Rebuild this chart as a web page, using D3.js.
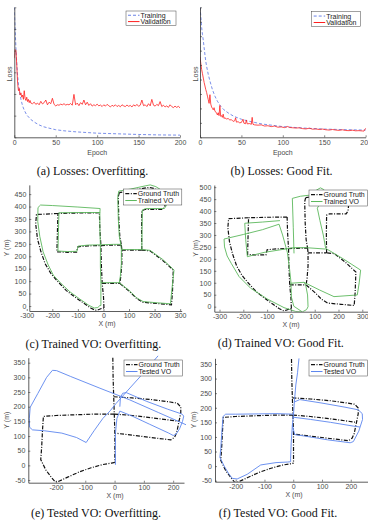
<!DOCTYPE html>
<html>
<head>
<meta charset="utf-8">
<script src="https://cdn.jsdelivr.net/npm/d3@7"></script>
<style>
  body { margin: 0; background: #fff; }
  svg { display: block; }
</style>
</head>
<body>
<svg id="fig" width="368" height="521"></svg>
<script>
// loss curves, [epoch, loss] in tick units (loss axis has no labels)
const trainA = [[0,6.0],[1,5.0],[2,4.1],[3,3.4],[4,2.85],[5,2.45],[6,2.15],[8,1.75],[10,1.45],[12,1.25],[15,1.03],[20,0.82],[25,0.68],[30,0.57],[35,0.49],[40,0.44],[50,0.35],[60,0.3],[75,0.25],[100,0.19],[125,0.16],[150,0.13],[175,0.11],[200,0.1]];
const valA = [[0,3.65],[1,4.05],[2,4.0],[3,3.3],[4,2.5],[5,2.15],[6,2.25],[7,1.95],[8,2.05],[9,1.85],[10,1.95],[11,1.75],[12,2.15],[13,1.8],[14,1.7],[15,1.85],[16,1.65],[17,1.75],[18,1.6],[19,1.7],[20,1.58],
  [22,1.55],[24,1.62],[26,1.52],[28,1.58],[30,1.5],[32,1.66],[34,1.54],[36,1.6],[38,1.72],[40,1.5],[42,1.62],[44,1.55],[46,1.8],[48,1.52],[50,1.45],[52,1.5],[54,1.48],[56,1.53],[58,1.5],[60,1.55],
  [62,1.49],[64,1.52],[66,1.5],[68,1.56],[70,1.48],[72,1.98],[74,1.5],[76,1.58],[78,1.46],[80,1.6],[82,1.52],[84,1.72],[86,1.5],[88,1.62],[90,1.47],[92,1.55],[94,1.44],[96,1.5],[98,1.46],[100,1.53],
  [102,1.45],[104,1.49],[106,1.42],[108,1.5],[110,1.44],[112,1.52],[114,1.46],[116,1.4],[118,1.48],[120,1.43],[122,1.5],[124,1.42],[126,1.47],[128,1.41],[130,1.5],[132,1.45],[134,1.42],[136,1.49],[138,1.43],[140,1.47],
  [142,1.4],[144,1.5],[146,1.44],[148,1.52],[150,1.43],[152,1.48],[154,1.72],[156,1.46],[158,1.5],[160,1.42],[162,1.55],[164,1.45],[166,1.75],[168,1.48],[170,1.44],[172,1.52],[174,1.46],[176,1.65],[178,1.42],[180,1.48],
  [182,1.4],[184,1.45],[186,1.38],[188,1.5],[190,1.42],[192,1.37],[194,1.44],[196,1.38],[198,1.43],[200,1.36]];
const trainB = [[0,9.0],[1,8.4],[2,7.6],[3,7.1],[4,6.7],[5,6.2],[6,5.7],[7,5.25],[8,4.9],[10,4.35],[12,3.9],[15,3.3],[18,2.85],[21,2.5],[25,2.15],[29,1.9],[35,1.65],[41,1.45],[50,1.25],[60,1.1],[75,0.92],[100,0.74],[125,0.64],[150,0.57],[175,0.53],[200,0.5]];
const valB = [[0,5.58],[1,5.1],[2,4.7],[3,4.4],[4,4.1],[5,3.8],[6,3.55],[7,3.3],[8,3.1],[9,2.85],[10,2.6],[11,2.35],[12,2.95],[13,2.3],[14,2.1],[15,2.0],[16,1.9],[17,2.05],[18,1.82],[19,1.75],[20,1.68],
  [21,1.55],[22,1.7],[23,1.5],[24,2.2],[25,1.45],[26,1.5],[27,1.38],[28,1.6],[29,1.3],[30,1.35],[32,1.27],[34,1.3],[36,1.2],[38,1.22],[40,1.1],[42,1.15],[43,1.35],[44,1.05],[46,1.08],[48,1.0],[50,1.03],
  [52,1.25],[53,0.98],[55,0.94],[56,1.2],[57,0.93],[60,0.95],[62,0.9],[63,1.38],[64,0.9],[66,0.86],[70,0.84],[74,0.86],[78,0.78],[82,0.8],[86,0.74],[90,0.78],[94,0.7],[98,0.72],[102,0.67],[106,0.75],
  [108,0.68],[112,0.66],[116,0.64],[120,0.66],[124,0.6],[128,0.58],[132,0.63],[136,0.56],[140,0.58],[144,0.54],[148,0.57],[152,0.52],[156,0.5],[160,0.54],[164,0.5],[168,0.48],[172,0.52],[176,0.47],
  [180,0.46],[184,0.49],[188,0.45],[192,0.46],[196,0.44],[198,0.43],[200,0.62]];

// trajectories, lists of segments of [x, y] in metres
const gtTrain = [
  [[2,-8],[0,40],[-5,91],[-8,160],[-10,243],[-14,310],[-16,375]],
  [[-16,375],[-100,374],[-178,372],[-180,300],[-182,218],[-140,216],[-105,217],[-100,238],[-60,242],[-10,243],[40,245],[70,245]],
  [[-178,372],[-262,368],[-265,330],[-258,270],[-245,220],[-228,170],[-205,130],[-180,100],[-145,62],[-110,35],[-75,10],[-50,-8],[-32,-17],[-20,-15],[-8,-10],[2,-8]],
  [[70,245],[72,225],[72,170],[68,120],[64,91]],
  [[-5,91],[30,91],[64,91]],
  [[64,91],[100,60],[130,30],[155,15],[210,10],[266,5],[270,60],[273,145],[230,185],[182,222],[150,225]],
  [[72,225],[110,225],[150,225]],
  [[150,225],[149,300],[150,383],[162,388],[232,388],[240,400],[242,420],[230,455],[200,472],[180,477],[160,474],[100,462],[62,456]],
  [[62,456],[58,440],[60,350],[64,280],[70,245]]
];
const voTrainOver = [
  [[-10,2],[-10,91],[-12,160],[-12,243],[-14,310],[-14,374],[-13,392]],
  [[-13,376],[-100,376],[-174,375],[-176,300],[-178,221],[-140,219],[-104,220],[-99,241],[-60,245],[-12,246],[40,248],[68,248]],
  [[-13,392],[-100,398],[-200,404],[-246,406],[-256,396],[-257,340],[-249,280],[-236,218],[-216,165],[-196,124],[-165,90],[-131,57],[-95,30],[-59,4],[-36,-8],[-22,-6],[-14,2],[-10,2]],
  [[68,248],[70,227],[70,170],[66,120],[62,94]],
  [[-10,94],[30,94],[62,94]],
  [[62,94],[100,63],[130,33],[155,18],[210,13],[262,9],[267,60],[276,145],[232,187],[182,224],[150,227]],
  [[70,227],[110,227],[150,227]],
  [[150,227],[151,300],[152,386],[165,392],[238,392],[246,404],[248,425],[236,460],[205,480],[183,487],[163,483],[105,470],[60,462]],
  [[60,462],[56,440],[58,350],[62,280],[68,248]]
];
const voTrainGood = [
  [[-50,345],[-120,322],[-200,302],[-281,283],[-279,250],[-268,212],[-250,180],[-218,126],[-169,77],[-99,32],[-29,-4],[20,-20],[48,-22],[66,-12],[72,0],[70,49],[62,91],[55,102]],
  [[-50,345],[-35,300],[-15,227],[-6,160],[0,105],[2,40],[12,2],[48,-22]],
  [[-46,360],[-120,354],[-194,349],[-190,280],[-183,209],[-150,218],[-113,227],[-50,237],[13,247],[62,247],[146,241]],
  [[13,223],[10,330],[6,453],[40,462],[83,467],[108,488],[124,497],[138,490],[136,455],[111,412],[122,360],[136,300],[146,244]],
  [[146,244],[220,200],[293,153],[287,100],[279,49],[181,42],[120,70],[55,102],[-1,98]]
];
const gtTest = [
  [[-6,367],[-5,300],[-3,234],[-1,175],[1,110],[1,60],[1,10]],
  [[-1,175],[-60,175],[-120,173],[-200,170],[-243,167],[-246,120],[-249,60],[-252,20],[-235,-15],[-215,-42],[-203,-56],[-190,-54],[-160,-40],[-120,-22],[-80,-8],[-40,3],[-10,8],[1,10]],
  [[-1,175],[60,170],[130,162],[220,150]],
  [[-3,234],[60,230],[130,224],[190,216],[214,212],[226,199],[226,180],[220,150],[212,112],[205,96],[192,87],[100,98],[1,110]]
];
const voTestOver = [
  [[3,2],[3,50],[3,109],[8,160],[18,185],[60,168],[120,140],[185,110],[200,102],[210,106],[222,125],[232,150],[236,168],[230,175],[180,192],[110,218],[40,248],[28,246],[20,232],[18,200]],
  [[245,138],[150,180],[50,224],[-50,263],[-150,303],[-198,323],[-212,324],[-232,300],[-262,245],[-288,198],[-291,160],[-290,130],[-280,121],[-240,118],[-180,110],[-130,95],[-97,78],[-70,118],[-40,160],[-15,186],[5,211],[40,250],[87,302],[150,375]]
];
const voTestGood = [
  [[20,369],[15,320],[9,278],[4,220],[1,178],[-3,140],[-7,80],[-9,27],[-9,15]],
  [[1,178],[-60,180],[-120,179],[-200,178],[-235,178],[-244,170],[-248,120],[-252,60],[-255,30],[-240,0],[-225,-25],[-212,-42],[-195,-44],[-160,-28],[-113,4],[-60,12],[-20,14],[-9,15]],
  [[-3,168],[60,160],[130,150],[210,137],[232,134]],
  [[4,220],[23,228],[100,216],[180,202],[226,193],[240,180],[241,160],[228,120],[209,84],[198,80],[120,90],[40,103],[5,108],[-3,140]]
];

const epochTicks = [0, 50, 100, 150, 200];
const trainXTicks = [-300, -200, -100, 0, 100, 200, 300];
const testXTicks = [-200, -100, 0, 100, 200];
const yTicksC = [0, 50, 100, 150, 200, 250, 300, 350, 400, 450];
const yTicksD = [0, 50, 100, 150, 200, 250, 300, 350, 400, 450, 500];
const yTicksTest = [-50, 0, 50, 100, 150, 200, 250, 300, 350];

const BLUE = '#6b82e6', RED = '#ff1f1f', GREEN = '#5cb85c', VOBLUE = '#5c86ee';
const SANS = "'Liberation Sans', Arial, Helvetica, sans-serif";
const SERIF = "'Liberation Serif', 'Times New Roman', Times, serif";
const GT_DASH = '4,1.5,1,1.5';

const svg = d3.select('#fig');
let clipId = 0;

function addClip(x, y) {
  const id = 'clip' + (clipId++);
  const [x0, x1] = x.range(), [y0, y1] = y.range();
  svg.append('clipPath').attr('id', id).append('rect')
    .attr('x', x0).attr('y', y1 - 2).attr('width', x1 - x0 + 2).attr('height', y0 - y1 + 2);
  return id;
}

function drawAxes(x, y, xt, yt, noYLabels) {
  const xa = svg.append('g')
    .attr('transform', `translate(0,${y.range()[0]})`)
    .call(d3.axisBottom(x).tickValues(xt).tickSizeInner(-2).tickSizeOuter(0).tickPadding(2.5).tickFormat(d => String(d)));
  const ya = svg.append('g')
    .attr('transform', `translate(${x.range()[0]},0)`)
    .call(d3.axisLeft(y).tickValues(yt).tickSizeInner(-2).tickSizeOuter(0).tickPadding(3)
      .tickFormat(d => noYLabels ? '' : String(d)));
  [xa, ya].forEach(a => {
    a.attr('font-size', 7).attr('font-family', SANS);
    a.select('.domain').attr('stroke', '#333').attr('stroke-width', 0.8);
    a.selectAll('.tick line').attr('stroke', '#333').attr('stroke-width', 0.6);
    a.selectAll('.tick text').attr('fill', '#4a4a4a');
  });
}

function legend(x0, y0, w, h, items) {
  const g = svg.append('g');
  g.append('rect').attr('x', x0).attr('y', y0).attr('width', w).attr('height', h)
    .attr('fill', '#fff').attr('stroke', '#444').attr('stroke-width', 0.5);
  items.forEach((it, i) => {
    const yy = y0 + h * (i === 0 ? 0.29 : 0.72);
    g.append('line').attr('x1', x0 + 2).attr('x2', x0 + 13.5).attr('y1', yy).attr('y2', yy)
      .attr('stroke', it.color).attr('stroke-width', it.width).attr('stroke-dasharray', it.dash || null);
    g.append('text').attr('x', x0 + 14.5).attr('y', yy + 2.5).text(it.label)
      .attr('font-size', 7).attr('font-family', SANS).attr('fill', '#222');
  });
}

function label(txt, x, y, rotate, size, family) {
  svg.append('text').text(txt)
    .attr('transform', `translate(${x},${y})` + (rotate ? ' rotate(-90)' : ''))
    .attr('text-anchor', 'middle').attr('dominant-baseline', 'central')
    .style('font-size', size + 'px').style('font-family', family)
    .attr('fill', family === SERIF ? '#111' : '#4a4a4a');
}

function lossPanel(c) {
  const x = d3.scaleLinear().domain([0, 200]).range([c.x0, c.x1]);
  const y = d3.scaleLinear().domain([0, c.ymax]).range([137.3, 7.3]);
  const line = d3.line().x(d => x(d[0])).y(d => y(d[1]));
  const g = svg.append('g').attr('clip-path', `url(#${addClip(x, y)})`);
  g.append('path').datum(c.train).attr('d', line).attr('fill', 'none')
    .attr('stroke', BLUE).attr('stroke-width', 0.9).attr('stroke-dasharray', '3,2');
  g.append('path').datum(c.val).attr('d', line).attr('fill', 'none')
    .attr('stroke', RED).attr('stroke-width', 0.8);
  drawAxes(x, y, epochTicks, d3.range(0, c.ymax + 1), true);
  legend(c.lx, c.ly, c.lw, c.lh, [
    { label: 'Training', color: BLUE, width: 1, dash: '3,2' },
    { label: 'Validation', color: RED, width: 1 }
  ]);
  label('Loss', c.yLabX, 74, true, 7, SANS);
  label('Epoch', (c.x0 + c.x1) / 2, 152, false, 7, SANS);
  label(c.caption, c.capX, 171, false, 12, SERIF);
}

function trajPanel(c) {
  const x = d3.scaleLinear().domain(c.xd).range(c.xr);
  const y = d3.scaleLinear().domain(c.yd).range(c.yr);
  const line = d3.line().x(d => x(d[0])).y(d => y(d[1]));
  const g = svg.append('g').attr('clip-path', `url(#${addClip(x, y)})`);
  g.selectAll('path.gt').data(c.gt).enter().append('path').attr('class', 'gt')
    .attr('d', line).attr('fill', 'none').attr('stroke', '#111')
    .attr('stroke-width', 1.2).attr('stroke-dasharray', GT_DASH);
  g.selectAll('path.vo').data(c.vo).enter().append('path').attr('class', 'vo')
    .attr('d', line).attr('fill', 'none').attr('stroke', c.color).attr('stroke-width', 0.9);
  drawAxes(x, y, c.xt, c.yt, false);
  legend(c.lx, c.ly, 58.5, 16, [
    { label: 'Ground Truth', color: '#111', width: 1.2, dash: GT_DASH },
    { label: c.voName, color: c.color, width: 1 }
  ]);
  label('Y (m)', c.yLabX, (c.yr[0] + c.yr[1]) / 2, true, 7, SANS);
  label('X (m)', c.xLabX, c.yr[0] + 12.3, false, 7, SANS);
  label(c.caption, c.capX, c.capY, false, 12, SERIF);
}

lossPanel({ x0: 14.3, x1: 180, ymax: 6, train: trainA, val: valA,
  lx: 126, ly: 11, lw: 50, lh: 14.7, yLabX: 9.3, capX: 92.5, caption: '(a) Losses: Overfitting.' });
lossPanel({ x0: 200, x1: 365.6, ymax: 9, train: trainB, val: valB,
  lx: 311.7, ly: 11.7, lw: 49, lh: 15, yLabX: 195.5, capX: 281.5, caption: '(b) Losses: Good Fit.' });

trajPanel({ xd: [-290, 306], xr: [29.3, 181.7], yd: [-20, 487], yr: [311, 184.9],
  xt: trainXTicks, yt: yTicksC, gt: gtTrain, vo: voTrainOver, color: GREEN, voName: 'Trained VO',
  lx: 123.3, ly: 189, yLabX: 6, xLabX: 107, capX: 93.3, capY: 344.3, caption: '(c) Trained VO: Overfitting.' });
trajPanel({ xd: [-322, 324], xr: [214.3, 368], yd: [-21, 509], yr: [311.7, 185],
  xt: trainXTicks, yt: yTicksD, gt: gtTrain, vo: voTrainGood, color: GREEN, voName: 'Trained VO',
  lx: 309, ly: 190, yLabX: 195.5, xLabX: 291, capX: 280.7, capY: 343.3, caption: '(d) Trained VO: Good Fit.' });
trajPanel({ xd: [-294.5, 237], xr: [28.3, 184], yd: [-59, 367], yr: [482.7, 357.7],
  xt: testXTicks, yt: yTicksTest, gt: gtTest, vo: voTestOver, color: VOBLUE, voName: 'Tested VO',
  lx: 124, ly: 360, yLabX: 6.7, xLabX: 115, capX: 96, capY: 513.3, caption: '(e) Tested VO: Overfitting.' });
trajPanel({ xd: [-272, 260], xr: [215, 368], yd: [-53.4, 369.5], yr: [481.7, 358.3],
  xt: testXTicks, yt: yTicksTest, gt: gtTest, vo: voTestGood, color: VOBLUE, voName: 'Tested VO',
  lx: 309, ly: 360, yLabX: 193.3, xLabX: 294, capX: 278, capY: 513.3, caption: '(f) Tested VO: Good Fit.' });
</script>
</body>
</html>
